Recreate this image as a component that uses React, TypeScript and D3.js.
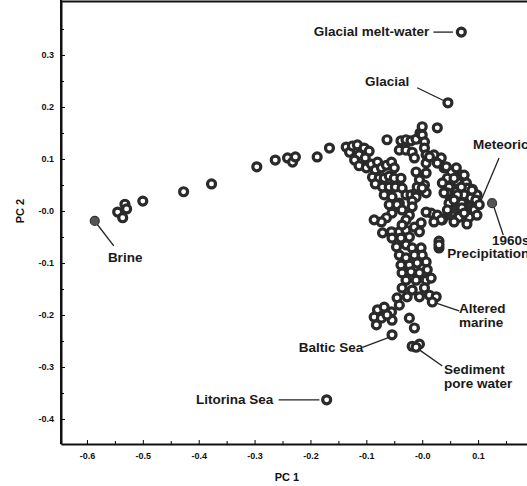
import { useEffect, useRef } from 'react';
import * as d3 from 'd3';

// PC scores (open rings)
const ringX = [
  -0.545, -0.532, -0.529, -0.536, -0.500, -0.427, -0.377, -0.296, -0.263, -0.241, -0.232, -0.227, -0.188, -0.166,
  // left arm
  -0.136, -0.130, -0.125, -0.116, -0.113, -0.104, -0.095, -0.121, -0.113, -0.102, -0.100, -0.091, -0.084, -0.089,
  -0.080, -0.073, -0.064, -0.055, -0.050, -0.077, -0.068, -0.059, -0.050, -0.084, -0.071, -0.059, -0.048, -0.038,
  -0.036, -0.029, -0.020, -0.011, -0.068, -0.054, -0.041, -0.059,
  // top ridge
  -0.063, -0.038, -0.029, -0.020, -0.011, -0.004, 0.000, 0.027, -0.041, -0.029, -0.018, 0.000, 0.004, 0.004,
  0.007, -0.014, 0.021, 0.034, 0.007, 0.027, 0.039, 0.052, 0.061, 0.070, 0.007, 0.045, 0.063, 0.079, 0.080,
  0.048, 0.061, 0.004, 0.007, 0.045, 0.075, 0.087, 0.098, 0.071,
  // middle column
  -0.011, -0.005, -0.009, 0.000, -0.011, -0.018, 0.013,
  // meteoric
  0.043, 0.075, 0.057, 0.036, 0.070, 0.039, 0.063, 0.048, 0.071, 0.045, 0.066, 0.057, 0.036, 0.084, 0.093,
  0.096, 0.089, 0.102, 0.080, 0.098, 0.057, 0.075,
  0.016, 0.027, 0.034, 0.021, 0.007,
  // arm lower
  -0.045, -0.036, -0.054, -0.064, -0.073, -0.086, -0.023, -0.018, -0.029,
  // trunk
  -0.071, -0.055, -0.041, -0.029, -0.036, -0.014, -0.002, -0.005, -0.054, -0.038, -0.023, -0.046, -0.029, -0.018,
  -0.002, -0.041, -0.029, -0.014, 0.000, 0.007, -0.038, -0.023, -0.009, 0.009, -0.036, -0.020, -0.005, -0.029,
  -0.011, 0.007, 0.016, -0.036, -0.018, 0.004, -0.027, 0.013, 0.025, -0.045, -0.005,
  // lower cluster
  -0.080, -0.068, -0.055, -0.086, -0.073, -0.054, -0.082, -0.063, -0.041, -0.023, -0.014, -0.054,
  -0.018, -0.005, -0.011, 0.018, 0.030, 0.030, 0.030,
  // singles
  0.070, 0.046, -0.171,
];
const ringY = [
  -0.002, 0.013, 0.004, -0.013, 0.019, 0.037, 0.052, 0.085, 0.098, 0.102, 0.094, 0.104, 0.104, 0.121,
  0.123, 0.113, 0.125, 0.127, 0.108, 0.121, 0.115, 0.098, 0.087, 0.102, 0.083, 0.090, 0.079, 0.065,
  0.094, 0.083, 0.088, 0.094, 0.083, 0.063, 0.063, 0.067, 0.063, 0.052, 0.046, 0.046, 0.046, 0.063,
  0.044, 0.031, 0.031, 0.035, 0.031, 0.027, 0.015, 0.012,
  0.137, 0.135, 0.137, 0.135, 0.138, 0.150, 0.162, 0.160, 0.117, 0.117, 0.113, 0.146, 0.133, 0.121,
  0.108, 0.102, 0.108, 0.102, 0.092, 0.092, 0.083, 0.075, 0.083, 0.069, 0.073, 0.063, 0.056, 0.054, 0.044,
  0.046, 0.037, 0.050, 0.035, 0.035, 0.031, 0.025, 0.031, 0.015,
  0.075, 0.060, 0.046, 0.044, 0.027, 0.019, 0.104,
  0.085, 0.069, 0.063, 0.054, 0.046, 0.035, 0.031, 0.015, 0.006, 0.002, -0.012, -0.021, -0.017, -0.012, 0.002,
  0.021, 0.040, 0.012, -0.025, -0.008, 0.021, -0.004,
  -0.004, -0.008, -0.017, -0.021, -0.002,
  0.012, 0.002, -0.004, -0.013, -0.021, -0.017, -0.008, 0.008, -0.017,
  -0.042, -0.040, -0.040, -0.037, -0.027, -0.031, -0.023, -0.040, -0.052, -0.052, -0.050, -0.069, -0.065, -0.071,
  -0.071, -0.085, -0.090, -0.085, -0.085, -0.098, -0.104, -0.104, -0.100, -0.113, -0.119, -0.117, -0.119, -0.133,
  -0.133, -0.133, -0.129, -0.148, -0.152, -0.148, -0.165, -0.162, -0.165, -0.167, -0.165,
  -0.190, -0.185, -0.194, -0.204, -0.206, -0.210, -0.219, -0.200, -0.181, -0.206, -0.225, -0.238,
  -0.260, -0.256, -0.262, -0.175, -0.058, -0.071, -0.065,
  0.344, 0.208, -0.363,
];

// dense core of the meteoric group, which prints as solid dark
const coreX = [0.050, 0.060, 0.070, 0.080, 0.090, 0.055, 0.065, 0.075, 0.085, 0.095, 0.050, 0.060, 0.070, 0.080, 0.090,
  0.055, 0.065, 0.075, 0.085, 0.045, 0.060];
const coreY = [0.060, 0.058, 0.056, 0.050, 0.042, 0.045, 0.042, 0.038, 0.030, 0.022, 0.025, 0.022, 0.020, 0.015, 0.008,
  0.005, 0.000, -0.004, -0.002, -0.008, -0.015];

// solid grey end members
const solidX = [-0.586, 0.125];
const solidY = [-0.019, 0.015];

const xTicks = [-0.6, -0.5, -0.4, -0.3, -0.2, -0.1, 0.0, 0.1];
const xTickLabels = ['-0.6', '-0.5', '-0.4', '-0.3', '-0.2', '-0.1', '-0.0', '0.1'];
const yTicks = [0.3, 0.2, 0.1, 0.0, -0.1, -0.2, -0.3, -0.4];
const yTickLabels = ['0.3', '0.2', '0.1', '-0.0', '-0.1', '-0.2', '-0.3', '-0.4'];
const xMinor = [-0.55, -0.45, -0.35, -0.25, -0.15, -0.05, 0.05, 0.15];
const yMinor = [0.35, 0.25, 0.15, 0.05, -0.05, -0.15, -0.25, -0.35];

// annotation text
const labelText = [['Glacial melt-water'], ['Glacial'], ['Meteoric'], ['1960s'], ['Precipitation'], ['Brine'],
  ['Altered', 'marine'], ['Baltic Sea'], ['Sediment', 'pore water'], ['Litorina Sea']];
const labelX = [0.0125, -0.023, 0.091, 0.125, 0.045, -0.5625, 0.066, -0.221, 0.039, -0.405];
const labelY = [0.337, 0.240, 0.119, -0.065, -0.090, -0.098, -0.196, -0.271, -0.313, -0.371];
const labelAnchor = ['end', 'end', 'start', 'start', 'start', 'start', 'start', 'start', 'start', 'start'];
// leader lines
const leaderFrom = [[0.020, 0.344], [-0.009, 0.237], [0.1375, 0.102], [0.127, 0.012], [-0.582, -0.025],
  [0.025, -0.177], [-0.107, -0.262], [-0.005, -0.267], [-0.257, -0.363]];
const leaderTo = [[0.055, 0.344], [0.039, 0.212], [0.104, 0.017], [0.145, -0.046], [-0.552, -0.067],
  [0.066, -0.192], [-0.057, -0.242], [0.036, -0.298], [-0.184, -0.363]];

export default function App() {
  const width = 527;
  const height = 486;
  const marginLeft = 61;
  const marginTop = 1;
  const marginBottom = 42;

  const x = d3.scaleLinear().domain([-0.6464, 0.1875]).range([marginLeft, width]);
  const y = d3.scaleLinear().domain([-0.448, 0.4038]).range([height - marginBottom, marginTop]);

  const gx = useRef(null);
  const gy = useRef(null);
  const gxm = useRef(null);
  const gym = useRef(null);

  useEffect(() => {
    const ax = d3.select(gx.current);
    ax.call(d3.axisBottom(x).tickValues(xTicks).tickSize(-4).tickPadding(9)
      .tickFormat((d, i) => xTickLabels[i]).tickSizeOuter(0));
    ax.select('.domain').attr('stroke', '#111').attr('stroke-width', 2);
    ax.selectAll('text').attr('font-family', 'Liberation Sans, Arial, sans-serif')
      .attr('font-weight', 'bold').attr('font-size', 9).attr('fill', '#111');
    d3.select(gxm.current).call(d3.axisBottom(x).tickValues(xMinor).tickSize(-3).tickFormat(() => '').tickSizeOuter(0))
      .select('.domain').remove();

    const ay = d3.select(gy.current);
    ay.call(d3.axisLeft(y).tickValues(yTicks).tickSize(-4).tickPadding(7)
      .tickFormat((d, i) => yTickLabels[i]).tickSizeOuter(0));
    ay.select('.domain').attr('stroke', '#111').attr('stroke-width', 2);
    ay.selectAll('text').attr('font-family', 'Liberation Sans, Arial, sans-serif')
      .attr('font-weight', 'bold').attr('font-size', 9).attr('fill', '#111');
    d3.select(gym.current).call(d3.axisLeft(y).tickValues(yMinor).tickSize(-3).tickFormat(() => '').tickSizeOuter(0))
      .select('.domain').remove();
  }, []);

  const font = 'Liberation Sans, Arial, sans-serif';

  return (
    <svg width={width} height={height} style={{ position: 'absolute', left: 0, top: 0, background: '#fff' }}>
      <line x1={marginLeft} x2={width} y1={marginTop + 0.5} y2={marginTop + 0.5} stroke="#111" strokeWidth={2} />
      <line x1={marginLeft} x2={marginLeft} y1={0} y2={height - marginBottom} stroke="#111" strokeWidth={2} />
      <g ref={gx} transform={`translate(0,${height - marginBottom})`} />
      <g ref={gxm} transform={`translate(0,${height - marginBottom})`} />
      <g ref={gy} transform={`translate(${marginLeft},0)`} />
      <g ref={gym} transform={`translate(${marginLeft},0)`} />

      {leaderFrom.map((f, i) => (
        <line key={'l' + i} x1={x(f[0])} y1={y(f[1])} x2={x(leaderTo[i][0])} y2={y(leaderTo[i][1])}
          stroke="#222" strokeWidth={1.3} />
      ))}

      {solidX.map((d, i) => (
        <circle key={'s' + i} cx={x(d)} cy={y(solidY[i])} r={4.5} fill="#555" stroke="#333" strokeWidth={1.2} />
      ))}
      {coreX.map((d, i) => (
        <circle key={'c' + i} cx={x(d)} cy={y(coreY[i])} r={5.4} fill="#2e2e2e" />
      ))}
      {ringX.map((d, i) => (
        <circle key={'r' + i} cx={x(d)} cy={y(ringY[i])} r={4} fill="#fff" stroke="#2a2a2a" strokeWidth={3.2} />
      ))}

      {labelText.map((lines, i) => (
        <text key={'t' + i} x={x(labelX[i])} y={y(labelY[i])} textAnchor={labelAnchor[i]}
          fontFamily={font} fontWeight="bold" fontSize={13.5} fill="#1a1a1a">
          {lines.map((s, j) => (
            <tspan key={j} x={x(labelX[i])} dy={j === 0 ? 0 : 14}>{s}</tspan>
          ))}
        </text>
      ))}

      <text x={287} y={481} textAnchor="middle" fontFamily={font} fontWeight="bold" fontSize={11} fill="#111">PC 1</text>
      <text transform={`translate(24,${y(0)}) rotate(-90)`} textAnchor="middle" fontFamily={font}
        fontWeight="bold" fontSize={11} fill="#111">PC 2</text>
    </svg>
  );
}
